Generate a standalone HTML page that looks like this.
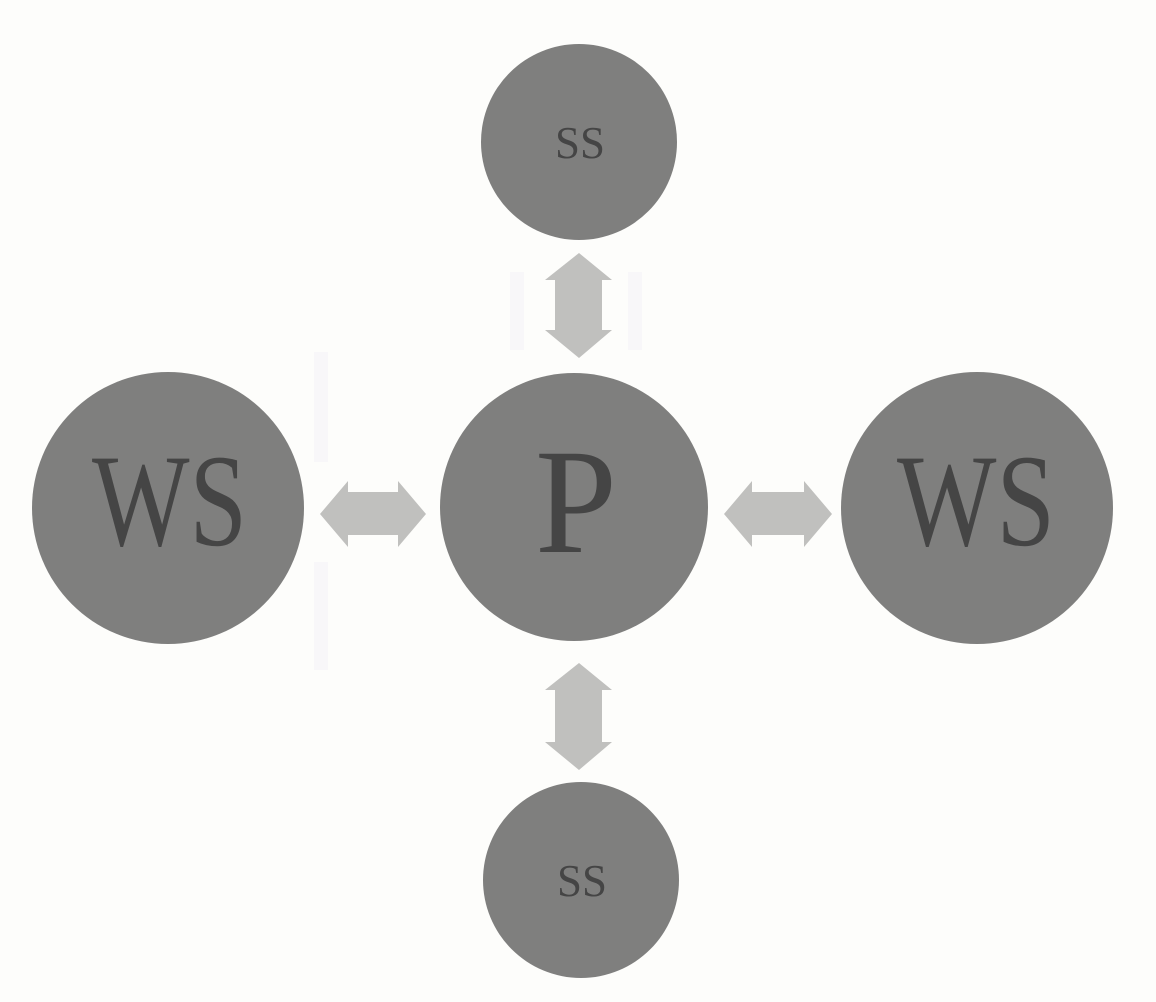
<!DOCTYPE html>
<html><head><meta charset="utf-8"><style>
html,body{margin:0;padding:0;background:#fdfdfb;}
svg{display:block;}
text{font-family:"Liberation Serif","Times New Roman",serif;fill:#454545;}
</style></head><body>
<svg width="1156" height="1002" viewBox="0 0 1156 1002" xmlns="http://www.w3.org/2000/svg">
<rect width="1156" height="1002" fill="#fdfdfb"/>
<g fill="#f8f7f9">
<rect x="510" y="272" width="14" height="78"/>
<rect x="628" y="272" width="14" height="78"/>
<rect x="314" y="352" width="14" height="110"/>
<rect x="314" y="562" width="14" height="108"/>
</g>
<g fill="#7f7f7e">
<circle cx="579" cy="142" r="98"/>
<circle cx="574" cy="507" r="134"/>
<circle cx="168" cy="508" r="136"/>
<circle cx="977" cy="508" r="136"/>
<circle cx="581" cy="880" r="98"/>
</g>
<g fill="#c0c0be">
<polygon points="579,253 612,280 602,280 602,330 612,330 579,358 545,330 555,330 555,280 545,280"/>
<polygon points="579,663 612,690 602,690 602,742 612,742 579,770 545,742 555,742 555,690 545,690"/>
<polygon points="320,514 348,481 348,492 398,492 398,481 426,514 398,547 398,535 348,535 348,547"/>
<polygon points="724,514 752,481 752,492 804,492 804,481 832,514 804,547 804,535 752,535 752,547"/>
</g>
<text x="555" y="158" font-size="46" textLength="50" lengthAdjust="spacingAndGlyphs">SS</text>
<text x="557" y="896" font-size="46" textLength="50" lengthAdjust="spacingAndGlyphs">SS</text>
<text x="535" y="552" font-size="150" textLength="82" lengthAdjust="spacingAndGlyphs">P</text>
<text x="92" y="545" font-size="132" textLength="155" lengthAdjust="spacingAndGlyphs">WS</text>
<text x="897" y="545" font-size="132" textLength="158" lengthAdjust="spacingAndGlyphs">WS</text>
</svg>
</body></html>
